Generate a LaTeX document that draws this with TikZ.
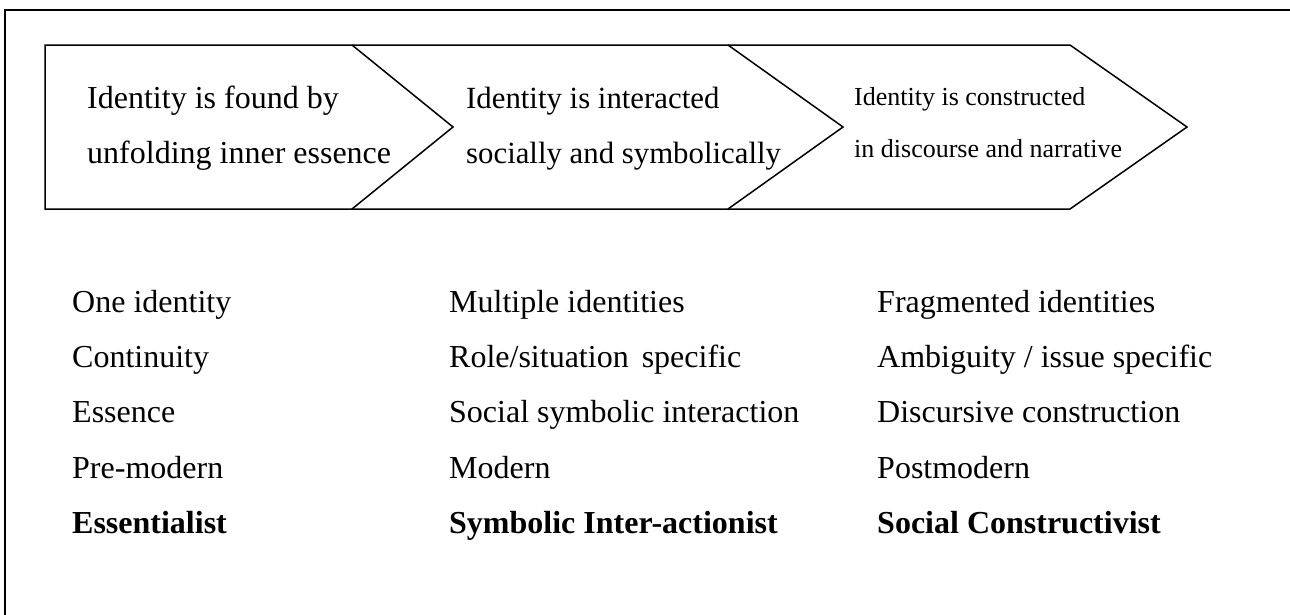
\documentclass[tikz,border=0pt]{standalone}
\usepackage{fontspec}
\setmainfont{Liberation Serif}
\begin{document}
\begin{tikzpicture}[x=1pt,y=-1pt,
  chev/.style={draw=black,line width=1.5pt,line join=miter},
  framebox/.style={draw=black,line width=2.2pt},
  lbl/.style={anchor=base west,inner sep=0pt,font=\fontsize{32}{38}\selectfont},
  midlbl/.style={anchor=base west,inner sep=0pt,font=\fontsize{30.8}{37}\selectfont},
  smalllbl/.style={anchor=base west,inner sep=0pt,font=\fontsize{26}{31}\selectfont},
  boldlbl/.style={lbl,font=\fontsize{32}{38}\selectfont\bfseries}]
\useasboundingbox (0,0) rectangle (1290,614);
% outer frame (only left and top edges visible)
\coordinate (fb) at (5,640);
\coordinate (fc) at (5,10);
\coordinate (fr) at (1310,10);
\draw[framebox] (fb) -- (fc) -- (fr);
% chevrons
\coordinate (a1) at (45,45);
\coordinate (a2) at (352,45);
\coordinate (a3) at (453,127);
\coordinate (a4) at (352,209);
\coordinate (a5) at (45,209);
\coordinate (b2) at (728,45);
\coordinate (b3) at (843,127);
\coordinate (b4) at (728,209);
\coordinate (c2) at (1070,45);
\coordinate (c3) at (1187,127);
\coordinate (c4) at (1070,209);
\draw[chev] (a1) -- (a2) -- (a3) -- (a4) -- (a5) -- cycle;
\draw[chev] (a2) -- (b2) -- (b3) -- (b4) -- (a4);
\draw[chev] (b2) -- (c2) -- (c3) -- (c4) -- (b4);
% chevron texts
\node[lbl] (t1a) at (87,108) {Identity is found by};
\node[lbl] (t1b) at (87,163) {unfolding inner essence};
\node[midlbl] (t2a) at (466,108) {Identity is interacted};
\node[midlbl] (t2b) at (466,163) {socially and symbolically};
\node[smalllbl] (t3a) at (854,105) {Identity is constructed};
\node[smalllbl] (t3b) at (854,157) {in discourse and narrative};
% column 1
\node[lbl] (r1c1) at (72,312) {One identity};
\node[lbl] (r2c1) at (72,367) {Continuity};
\node[lbl] (r3c1) at (72,422) {Essence};
\node[lbl] (r4c1) at (72,478) {Pre-modern};
\node[boldlbl] (r5c1) at (72,533) {Essentialist};
% column 2
\node[lbl] (r1c2) at (449,312) {Multiple identities};
\node[lbl] (r2c2) at (449,367) {Role/situation\hspace{13pt}specific};
\node[lbl] (r3c2) at (449,422) {Social symbolic interaction};
\node[lbl] (r4c2) at (449,478) {Modern};
\node[boldlbl] (r5c2) at (449,533) {Symbolic Inter-actionist};
% column 3
\node[lbl] (r1c3) at (877,312) {Fragmented identities};
\node[lbl] (r2c3) at (877,367) {Ambiguity / issue specific};
\node[lbl] (r3c3) at (877,422) {Discursive construction};
\node[lbl] (r4c3) at (877,478) {Postmodern};
\node[boldlbl] (r5c3) at (877,533) {Social Constructivist};
\end{tikzpicture}
\end{document}
